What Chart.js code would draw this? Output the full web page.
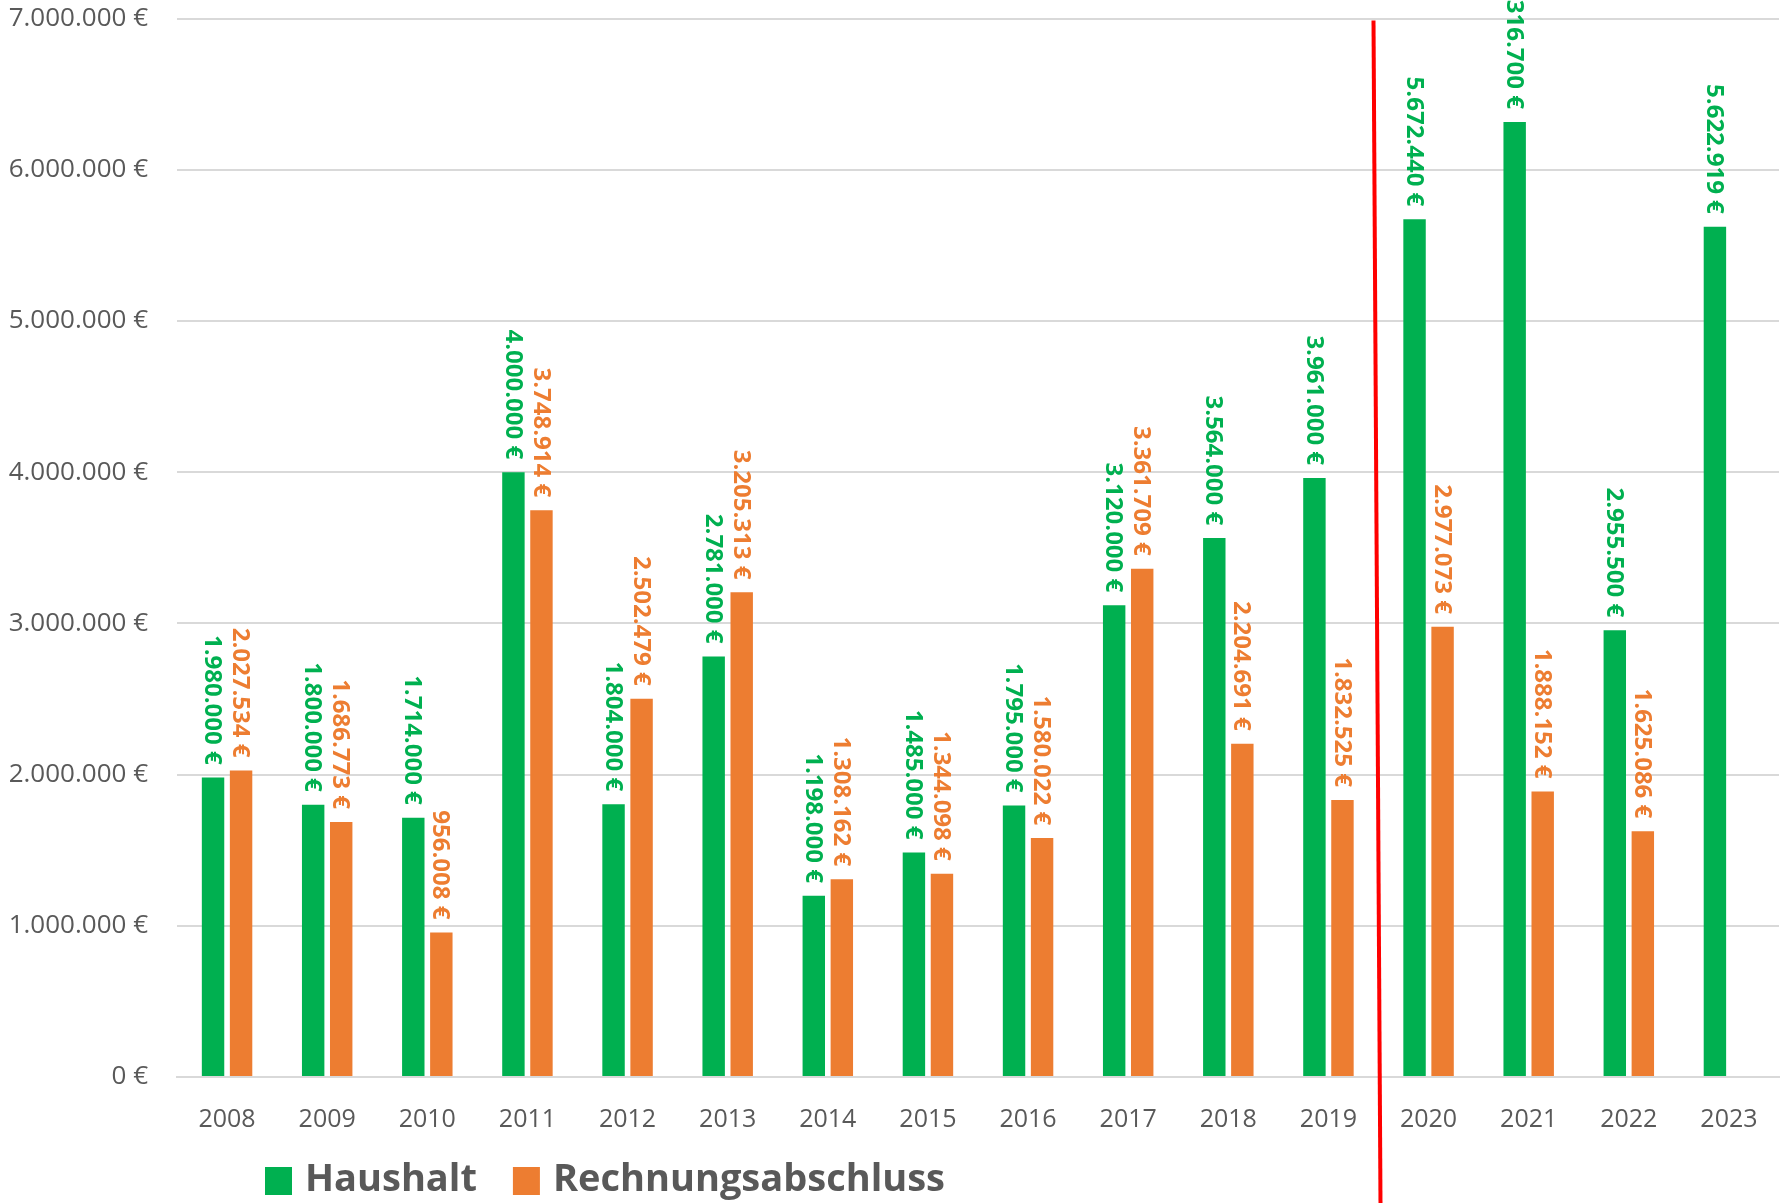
<!DOCTYPE html>
<html>
<head>
<meta charset="utf-8">
<script src="https://cdn.jsdelivr.net/npm/chart.js@4"></script>
<style>
    html, body { margin: 0; padding: 0; background: #fff; }
    canvas { display: block; }
</style>
</head>
<body>
<canvas id="chart1" width="1785" height="1203"></canvas>
<script>
const years = ['2008', '2009', '2010', '2011', '2012', '2013', '2014', '2015',
    '2016', '2017', '2018', '2019', '2020', '2021', '2022', '2023'];
const haushalt = [1980000, 1800000, 1714000, 4000000, 1804000, 2781000, 1198000, 1485000,
    1795000, 3120000, 3564000, 3961000, 5672440, 6316700, 2955500, 5622919];
const rechnungsabschluss = [2027534, 1686773, 956008, 3748914, 2502479, 3205313, 1308162, 1344098,
    1580022, 3361709, 2204691, 1832525, 2977073, 1888152, 1625086, null];
const seriesNames = ['Haushalt', 'Rechnungsabschluss'];
const seriesColors = ['#00B050', '#ED7D31'];
const yMax = 7000000;
const yStep = 1000000;
const splitAfter = 11.5; // between 2019 and 2020

const FONT = '"Open Sans", "DejaVu Sans", sans-serif';
const GREY = '#595959';

function euro(v) {
    return String(Math.round(v)).replace(/\B(?=(\d{3})+(?!\d))/g, '.') + ' €';
}

// value labels, rotated to read top to bottom
const valueLabels = {
    id: 'valueLabels',
    afterDatasetsDraw(chart) {
        const ctx = chart.ctx;
        ctx.save();
        ctx.font = 'bold 24px ' + FONT;
        ctx.textAlign = 'right';
        ctx.textBaseline = 'middle';
        chart.data.datasets.forEach((ds, i) => {
            const meta = chart.getDatasetMeta(i);
            ctx.fillStyle = ds.backgroundColor;
            meta.data.forEach((bar, j) => {
                const v = ds.data[j];
                if (v === null || v === undefined) return;
                ctx.save();
                ctx.translate(bar.x, bar.y - 13);
                ctx.rotate(Math.PI / 2);
                ctx.fillText(euro(v), 0, 1);
                ctx.restore();
            });
        });
        ctx.restore();
    }
};

// red split line + legend
const extras = {
    id: 'extras',
    afterDraw(chart) {
        const ctx = chart.ctx;
        const x = chart.scales.x.getPixelForValue(splitAfter);
        ctx.save();
        ctx.strokeStyle = '#FF0000';
        ctx.lineWidth = 4;
        ctx.beginPath();
        ctx.moveTo(x - 5, chart.chartArea.top + 2);
        ctx.lineTo(x + 2, chart.height);
        ctx.stroke();

        // legend
        ctx.font = 'bold 38px ' + FONT;
        ctx.textBaseline = 'alphabetic';
        ctx.textAlign = 'left';
        let lx = 265;
        const ly = 1167;
        seriesNames.forEach((name, i) => {
            ctx.fillStyle = seriesColors[i];
            ctx.fillRect(lx, ly, 27, 28);
            ctx.fillStyle = GREY;
            ctx.fillText(name, lx + 40, ly + 24);
            lx += 40 + ctx.measureText(name).width + 36;
        });
        ctx.restore();
    }
};

new Chart(document.getElementById('chart1'), {
    type: 'bar',
    data: {
        labels: years,
        datasets: [{
            label: seriesNames[0],
            data: haushalt,
            backgroundColor: seriesColors[0],
            barPercentage: 0.8,
            categoryPercentage: 0.56
        }, {
            label: seriesNames[1],
            data: rechnungsabschluss,
            backgroundColor: seriesColors[1],
            barPercentage: 0.8,
            categoryPercentage: 0.56
        }]
    },
    options: {
        responsive: false,
        animation: false,
        layout: {
            padding: { top: 0, right: 6, bottom: 56, left: 0 }
        },
        plugins: {
            legend: { display: false },
            tooltip: { enabled: false }
        },
        scales: {
            x: {
                grid: { display: false },
                border: { color: '#D9D9D9', width: 2 },
                ticks: {
                    color: GREY,
                    font: { family: FONT, size: 25 },
                    padding: 20,
                    maxRotation: 0
                },
                afterFit(scale) { scale.height = 70; }
            },
            y: {
                min: 0,
                max: yMax,
                border: { display: false },
                grid: { color: '#D9D9D9', lineWidth: 2, drawTicks: true, tickLength: 26, tickColor: 'rgba(0,0,0,0)' },
                ticks: {
                    stepSize: yStep,
                    color: GREY,
                    font: { family: FONT, size: 26 },
                    padding: 3,
                    callback: v => euro(v)
                },
                afterFit(scale) { scale.width = 177; }
            }
        }
    },
    plugins: [valueLabels, extras]
});
</script>
</body>
</html>
